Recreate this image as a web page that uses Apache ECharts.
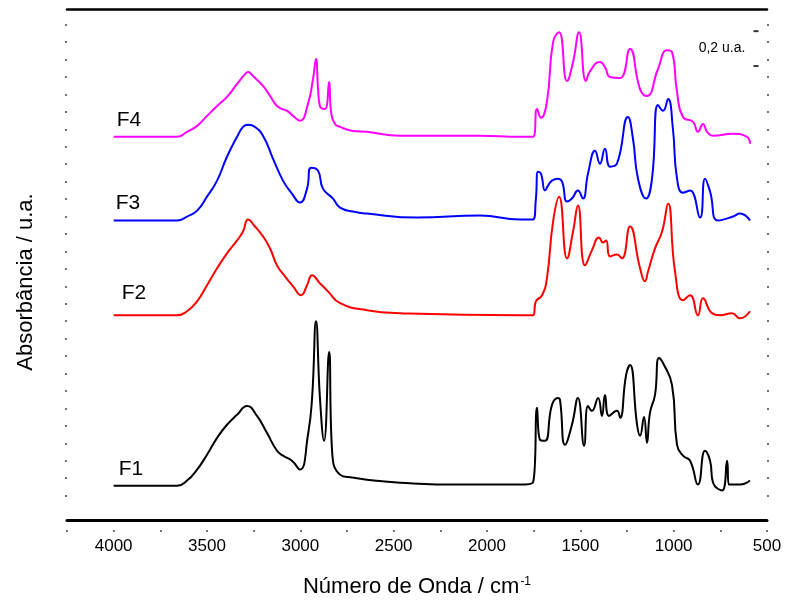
<!DOCTYPE html>
<html><head><meta charset="utf-8">
<script src="https://cdn.jsdelivr.net/npm/echarts@6/dist/echarts.min.js"></script>
<style>html,body{margin:0;padding:0;background:#fff}#c{width:788px;height:603px}</style>
</head><body><div id="c"></div>
<script>
// ---- data (wavenumber in cm-1, absorbance in u.a., curves offset as in the figure) ----
const wnF1 = [4000, 3660, 3607, 3553, 3500, 3446, 3393, 3339, 3286, 3232, 3179, 3125, 3093, 3045, 3002, 2959, 2937, 2916, 2895, 2873, 2846, 2830, 2787, 2718, 2643, 2466, 2145, 1823, 1754,
  1732, 1716, 1689, 1652, 1620, 1609, 1582, 1545, 1513, 1480, 1459, 1438, 1405, 1384, 1368, 1346, 1304, 1287, 1255, 1234, 1196, 1180, 1159, 1143, 1127, 1100, 1079, 1057, 1009, 982, 950, 912, 870, 832, 805, 789, 741, 714, 704, 645, 591];
const absF1 = [0.057, 0.057, 0.086, 0.149, 0.234, 0.331, 0.406, 0.463, 0.514, 0.457, 0.360, 0.257, 0.229, 0.200, 0.149, 0.349, 0.560, 1.000, 0.560, 0.314, 0.823, 0.257, 0.120, 0.103, 0.091, 0.074, 0.063, 0.063, 0.074,
  0.503, 0.320, 0.314, 0.520, 0.560, 0.549, 0.291, 0.406, 0.560, 0.286, 0.514, 0.486, 0.560, 0.457, 0.577, 0.457, 0.486, 0.446, 0.691, 0.749, 0.406, 0.343, 0.451, 0.303, 0.474, 0.577, 0.789, 0.760, 0.634, 0.291, 0.229, 0.200, 0.063, 0.257, 0.200, 0.074, 0.029, 0.200, 0.063, 0.063, 0.086];

const wnF2 = [4000, 3660, 3607, 3553, 3500, 3446, 3393, 3339, 3307, 3280, 3243, 3200, 3162, 3125, 3082, 3039, 2996, 2964, 2937, 2895, 2852, 2787, 2643, 2466, 1823, 1754,
  1738, 1705, 1679, 1646, 1614, 1571, 1539, 1513, 1475, 1438, 1400, 1379, 1362, 1341, 1304, 1277, 1234, 1180, 1154, 1137, 1100, 1062, 1030, 993, 950, 912, 870, 843, 795, 752, 688, 645, 591];
const absF2 = [1.034, 1.034, 1.057, 1.114, 1.206, 1.303, 1.389, 1.463, 1.514, 1.583, 1.543, 1.486, 1.417, 1.320, 1.257, 1.200, 1.149, 1.206, 1.263, 1.217, 1.171, 1.103, 1.063, 1.046, 1.034, 1.034,
  1.114, 1.149, 1.246, 1.571, 1.714, 1.360, 1.514, 1.663, 1.320, 1.406, 1.480, 1.451, 1.463, 1.371, 1.383, 1.360, 1.543, 1.303, 1.229, 1.286, 1.417, 1.514, 1.674, 1.286, 1.120, 1.149, 1.034, 1.131, 1.046, 1.034, 1.046, 1.017, 1.057];

const wnF3 = [4000, 3660, 3607, 3553, 3500, 3446, 3393, 3339, 3307, 3280, 3243, 3200, 3146, 3093, 3045, 3002, 2964, 2943, 2905, 2879, 2825, 2787, 2718, 2643, 2375, 2038, 1823, 1754,
  1738, 1727, 1711, 1689, 1673, 1652, 1620, 1598, 1571, 1545, 1513, 1486, 1459, 1421, 1395, 1368, 1341, 1304, 1245, 1218, 1191, 1148, 1116, 1084, 1057, 1030, 1004, 982, 950, 912, 859, 832, 805, 762, 682, 645, 591];
const absF3 = [1.577, 1.577, 1.600, 1.634, 1.714, 1.806, 1.943, 2.057, 2.114, 2.126, 2.114, 2.063, 1.931, 1.806, 1.731, 1.680, 1.760, 1.880, 1.863, 1.760, 1.703, 1.651, 1.629, 1.617, 1.594, 1.606, 1.583, 1.583,
  1.703, 1.857, 1.846, 1.749, 1.777, 1.806, 1.817, 1.800, 1.686, 1.703, 1.749, 1.703, 1.846, 1.977, 1.903, 1.989, 1.886, 1.903, 2.171, 2.046, 1.817, 1.703, 1.817, 2.240, 2.206, 2.274, 2.103, 1.817, 1.737, 1.749, 1.594, 1.817, 1.743, 1.577, 1.600, 1.617, 1.577];

const wnF4 = [4000, 3660, 3607, 3553, 3500, 3446, 3393, 3339, 3296, 3280, 3254, 3200, 3162, 3120, 3071, 3039, 3002, 2959, 2932, 2916, 2905, 2895, 2868, 2846, 2836, 2814, 2787, 2718, 2643, 2466, 2038, 1823, 1754,
  1732, 1711, 1679, 1646, 1614, 1571, 1539, 1507, 1470, 1448, 1395, 1368, 1341, 1287, 1234, 1180, 1143, 1084, 1036, 1009, 982, 950, 896, 870, 843, 821, 789, 682, 607, 591];
const absF4 = [2.057, 2.057, 2.086, 2.120, 2.177, 2.234, 2.286, 2.360, 2.417, 2.429, 2.406, 2.349, 2.291, 2.229, 2.206, 2.177, 2.149, 2.246, 2.389, 2.503, 2.331, 2.234, 2.217, 2.371, 2.206, 2.131, 2.114, 2.091, 2.086, 2.063, 2.063, 2.057, 2.057,
  2.217, 2.166, 2.257, 2.600, 2.657, 2.377, 2.486, 2.657, 2.377, 2.434, 2.486, 2.457, 2.400, 2.394, 2.560, 2.331, 2.291, 2.446, 2.554, 2.543, 2.314, 2.171, 2.143, 2.086, 2.131, 2.086, 2.063, 2.074, 2.057, 2.017];

const seriesNames = ['F1', 'F2', 'F3', 'F4'];
const xTickLabels = [4000, 3500, 3000, 2500, 2000, 1500, 1000, 500];
const xTicks = [4250, 4000, 3750, 3500, 3250, 3000, 2750, 2500, 2250, 2000, 1750, 1500, 1250, 1000, 750, 500];
const yTicks = [0, 0.1, 0.2, 0.3, 0.4, 0.5, 0.6, 0.7, 0.8, 0.9, 1.0, 1.1, 1.2, 1.3, 1.4, 1.5, 1.6, 1.7, 1.8, 1.9, 2.0, 2.1, 2.2, 2.3, 2.4, 2.5, 2.6, 2.7];
// scale bar: 0.2 u.a.
const scaleBar = [[559, 2.663], [559, 2.463]];
const scaleBarText = '0,2 u.a.';

// ---- presentation ----
const FONT = "'Liberation Sans', Arial, sans-serif";
const X_MIN = 500, X_MAX = 4250, Y_MIN = -0.14, Y_MAX = 2.79;
const colors = {F1: '#000000', F2: '#ff0000', F3: '#0000ff', F4: '#ff00ff'};
const labelAt = {F1: [3907, 0.154], F2: [3891, 1.160], F3: [3923, 1.674], F4: [3918, 2.154]};
const dataSets = {F1: [wnF1, absF1], F2: [wnF2, absF2], F3: [wnF3, absF3], F4: [wnF4, absF4]};

const chart = echarts.init(document.getElementById('c'), null, {renderer: 'canvas'});

const baseX = {type: 'value', inverse: true, min: X_MIN, max: X_MAX, splitLine: {show: false}};
const lineSeries = seriesNames.map(n => ({
  name: n, type: 'line', xAxisIndex: 0, yAxisIndex: 0,
  data: dataSets[n][0].map((w, i) => [w, dataSets[n][1][i]]),
  showSymbol: false, symbol: 'none', smooth: 0.5,
  lineStyle: {color: colors[n], width: 2}, itemStyle: {color: colors[n]},
  markPoint: {
    symbol: 'circle', symbolSize: 0, silent: true,
    label: {show: true, position: 'inside', formatter: n, fontSize: 21, color: '#000', fontFamily: FONT},
    data: [{coord: labelAt[n]}]
  }
}));

chart.setOption({
  animation: false,
  backgroundColor: '#fff',
  grid: {left: 67, right: 21, top: 9, bottom: 81, containLabel: false},
  xAxis: [
    Object.assign({}, baseX, {position: 'bottom', axisLine: {show: true, onZero: false, lineStyle: {color: '#000', width: 3}}, axisTick: {show: false}, axisLabel: {show: false}}),
    Object.assign({}, baseX, {position: 'top', axisLine: {show: true, onZero: false, lineStyle: {color: '#000', width: 2.5}}, axisTick: {show: false}, axisLabel: {show: false}}),
    Object.assign({}, baseX, {
      position: 'bottom', offset: 10,
      axisLine: {show: false, onZero: false},
      axisTick: {show: true, length: 2, customValues: xTicks, lineStyle: {color: '#444', width: 1.5}},
      axisLabel: {show: true, customValues: xTickLabels, formatter: v => String(v), fontSize: 17, color: '#000', margin: 8, fontFamily: FONT},
      name: 'Número de Onda / cm{sup|-1}', nameLocation: 'middle', nameGap: 46,
      nameTextStyle: {fontSize: 22, color: '#000', fontFamily: FONT,
        rich: {sup: {fontSize: 12, color: '#000', fontFamily: FONT, verticalAlign: 'top', padding: [0, 0, 0, 1]}}}
    })
  ],
  yAxis: [
    {type: 'value', min: Y_MIN, max: Y_MAX, position: 'left',
     axisLine: {show: false, onZero: false},
     axisTick: {show: true, length: 2, customValues: yTicks, lineStyle: {color: '#444', width: 1.5}},
     axisLabel: {show: false}, splitLine: {show: false},
     name: 'Absorbância / u.a.', nameLocation: 'middle', nameGap: 30,
     nameTextStyle: {fontSize: 22, color: '#000', fontFamily: FONT, padding: [0, 35, 0, 0]}},
    {type: 'value', min: Y_MIN, max: Y_MAX, position: 'right',
     axisLine: {show: false, onZero: false},
     axisTick: {show: true, length: 2, customValues: yTicks, lineStyle: {color: '#444', width: 1.5}},
     axisLabel: {show: false}, splitLine: {show: false}}
  ],
  series: lineSeries.concat([{
    name: 'scale', type: 'scatter', xAxisIndex: 0, yAxisIndex: 0,
    data: scaleBar, symbol: 'rect', symbolSize: [5, 2], itemStyle: {color: '#000'}, silent: true,
    markPoint: {
      symbol: 'circle', symbolSize: 0, silent: true,
      label: {show: true, position: 'inside', formatter: scaleBarText, fontSize: 14, color: '#000', fontFamily: FONT},
      data: [{coord: [741, (scaleBar[0][1] + scaleBar[1][1]) / 2]}]
    }
  }])
});
</script></body></html>
